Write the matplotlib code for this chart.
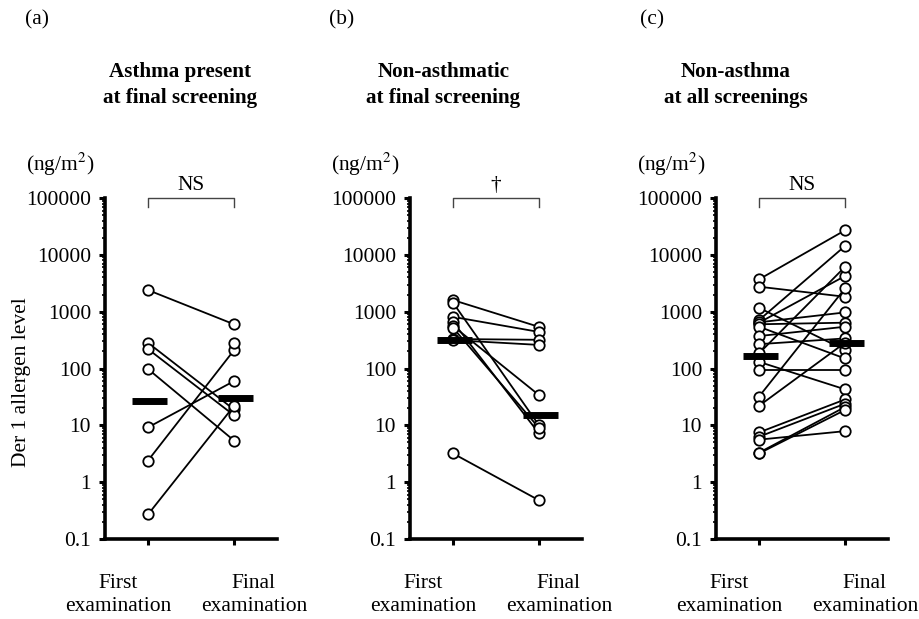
import numpy as np
import matplotlib
matplotlib.use("Agg")
import matplotlib.pyplot as plt
from matplotlib.ticker import LogLocator, FixedLocator, NullFormatter

plt.rcParams['font.family'] = ['Liberation Serif', 'DejaVu Serif']
plt.rcParams['mathtext.fontset'] = 'stix'

# ---------------- data ----------------
panel_letters = ["(a)", "(b)", "(c)"]
panel_titles = ["Asthma present\nat final screening",
                "Non-asthmatic\nat final screening",
                "Non-asthma\nat all screenings"]
sig_labels = ["NS", "\u2020", "NS"]
x_labels = ["First\nexamination", "Final\nexamination"]
y_ticks = [0.1, 1, 10, 100, 1000, 10000, 100000]
y_ticklabels = ["0.1", "1", "10", "100", "1000", "10000", "100000"]

a_first = [2400, 283, 220, 98, 9.2, 2.4, 0.27, np.nan]
a_final = [600, 19, 15, 5.4, 60, 210, 22, 280]
a_median = [27, 30]

b_first = [1600, 1440, 810, 660, 560, 520, 330, 316, 3.2]
b_final = [540, 10, 440, 7.2, 34, 9, 320, 260, 0.48]
b_median = [316, 15]

c_first = [3700, 2750, 1170, 710, 640, 650, 600, 543, 372, 268,
           184, 131, 94, 32, 22, 7.5, 6.3, 5.6, 3.3, 3.2]
c_final = [27000, 1830, 211, 14300, 4240, 970, 640, 150, 543, 338,
           6150, 43, 94, 2570, 284, 28.5, 24, 7.9, 21, 18.6]
c_median = [165, 280]

panels = [(a_first, a_final, a_median),
          (b_first, b_final, b_median),
          (c_first, c_final, c_median)]

# ---------------- layout ----------------
W, H = 920, 619
fig = plt.figure(figsize=(W / 100, H / 100), dpi=100)

FS = 15.5
ax_left_px = [105, 410, 716]
ax_w_px = 172
ax_top_px, ax_bot_px = 198, 539
title_x_data = [0.37, -0.11, -0.27]
letter_x_px = [37, 342, 652]

for i, (first, final, med) in enumerate(panels):
    ax = fig.add_axes([ax_left_px[i] / W, (H - ax_bot_px) / H,
                       ax_w_px / W, (ax_bot_px - ax_top_px) / H])
    ax.set_yscale('log')
    ax.set_ylim(0.1, 100000)
    ax.set_xlim(-0.5, 1.5)
    ax.patch.set_alpha(0)

    first = np.asarray(first, float)
    final = np.asarray(final, float)
    for f0, f1 in zip(first, final):
        if np.isfinite(f0) and np.isfinite(f1):
            ax.plot([0, 1], [f0, f1], color='black', lw=1.3, zorder=2,
                    solid_capstyle='butt')
    ax.plot(np.zeros(len(first)), first, 'o', ms=7.5, mfc='white',
            mec='black', mew=1.3, zorder=3, clip_on=False)
    ax.plot(np.ones(len(final)), final, 'o', ms=7.5, mfc='white',
            mec='black', mew=1.3, zorder=3, clip_on=False)
    # median bars
    for xx, m in zip([0, 1], med):
        ax.plot([xx - 0.19, xx + 0.22], [m, m], color='black', lw=5,
                solid_capstyle='butt', zorder=4)

    # spines
    for s in ['top', 'right']:
        ax.spines[s].set_visible(False)
    ax.spines['left'].set_linewidth(2.6)
    ax.spines['bottom'].set_linewidth(2.6)

    ax.yaxis.set_major_locator(FixedLocator(y_ticks))
    ax.set_yticklabels(y_ticklabels)
    ax.yaxis.set_minor_locator(LogLocator(base=10, subs=np.arange(2, 10)))
    ax.yaxis.set_minor_formatter(NullFormatter())
    ax.tick_params(axis='y', which='major', length=4, width=2.2,
                   labelsize=FS, pad=6, direction='out')
    ax.tick_params(axis='y', which='minor', length=2.5, width=1.2,
                   direction='out')
    ax.set_xticks([0, 1])
    ax.set_xticklabels(["", ""])
    ax.tick_params(axis='x', length=4, width=2.2, direction='out')

    trans = ax.get_xaxis_transform()
    # x labels
    ax.text(-0.35, -0.165, x_labels[0], transform=trans, ha='center',
            va='center', fontsize=FS, linespacing=1.3)
    ax.text(1.23, -0.165, x_labels[1], transform=trans, ha='center',
            va='center', fontsize=FS, linespacing=1.3)

    # titles
    ax.text(title_x_data[i], 1.33, panel_titles[i], transform=trans,
            ha='center', va='center', fontsize=15.2, fontweight='bold',
            linespacing=1.4)

    # significance bracket
    ax.plot([0, 0, 1, 1], [70000, 100000, 100000, 70000], color='#444444',
            lw=1.0, clip_on=False, zorder=1)
    ax.text(0.5, 1.008, sig_labels[i], transform=trans, ha='center',
            va='bottom', fontsize=FS)

    # unit label
    fig.text((ax_left_px[i] - 79) / W, (H - 164) / H, "(ng/m$^2$)",
             ha='left', va='center', fontsize=FS)
    # panel letter
    fig.text(letter_x_px[i] / W, (H - 20) / H, panel_letters[i],
             ha='center', va='center', fontsize=FS)

fig.text(22 / W, (H - 382) / H, "Der 1 allergen level", rotation=90,
         ha='center', va='center', fontsize=FS)

fig.savefig("out.png", dpi=100)
